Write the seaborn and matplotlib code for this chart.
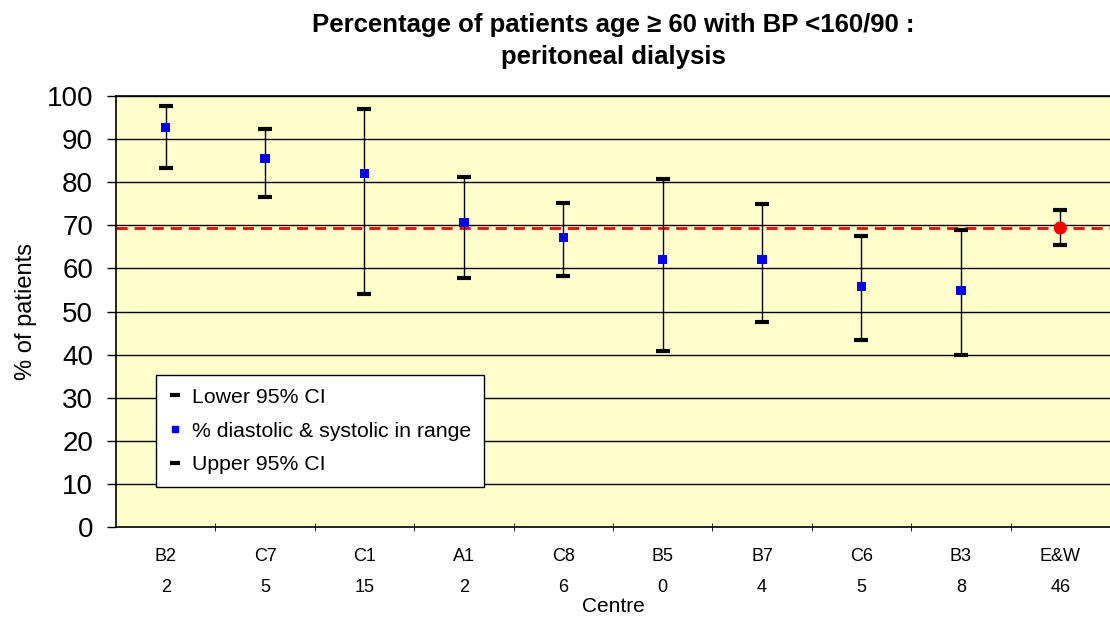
import matplotlib
matplotlib.use("Agg")
import matplotlib.pyplot as plt
import seaborn as sns
import pandas as pd
from matplotlib.lines import Line2D

# dados
centres = ["B2", "C7", "C1", "A1", "C8", "B5", "B7", "C6", "B3", "E&W"]
counts = ["2", "5", "15", "2", "6", "0", "4", "5", "8", "46"]
pct_in_range = [92.7, 85.5, 82.1, 70.6, 67.2, 62.1, 62.1, 55.8, 54.9, 69.4]
lower_ci = [83.4, 76.6, 54.1, 57.8, 58.3, 40.8, 47.7, 43.5, 40.0, 65.5]
upper_ci = [97.7, 92.3, 97.0, 81.2, 75.2, 80.7, 74.9, 67.6, 68.9, 73.6]
national_avg = 69.4

df = pd.DataFrame({"centre": centres, "pct": pct_in_range,
                   "lower": lower_ci, "upper": upper_ci})
df["pos"] = range(len(df))
is_ew = df["centre"] == "E&W"

sns.set_style("white")
plt.rcParams["font.family"] = ["Liberation Sans", "DejaVu Sans"]
plt.rcParams["text.color"] = "black"
plt.rcParams["axes.labelcolor"] = "black"
plt.rcParams["xtick.color"] = "black"
plt.rcParams["ytick.color"] = "black"

fig = plt.figure(figsize=(11.1, 6.26), dpi=100)
ax = fig.add_axes([0.1045, 0.158, 0.8955, 0.6885])
ax.set_facecolor("#FFFFCC")

# grade horizontal
for v in range(10, 101, 10):
    ax.axhline(v, color="black", lw=1, zorder=1)

# linha média E&W
ax.axhline(national_avg, color="red", ls=(0, (4, 2.5)), lw=2, zorder=2)

# barras de erro
ax.vlines(df["pos"], df["lower"], df["upper"], color="black", lw=1, zorder=3)
cap = dict(marker="_", s=90, color="black", linewidth=3, zorder=4, legend=False)
sns.scatterplot(data=df, x="pos", y="lower", ax=ax, **cap)
sns.scatterplot(data=df, x="pos", y="upper", ax=ax, **cap)

# pontos
sns.scatterplot(data=df[~is_ew], x="pos", y="pct", ax=ax, marker="s", s=45,
                color="blue", edgecolor="none", zorder=5, legend=False)
sns.scatterplot(data=df[is_ew], x="pos", y="pct", ax=ax, marker="o", s=90,
                color="red", edgecolor="none", zorder=5, legend=False)

ax.set_xlim(-0.5, len(df) - 0.5)
ax.set_ylim(0, 100)
ax.set_yticks(range(0, 101, 10))
ax.tick_params(axis="y", labelsize=20, length=6.5, width=1, direction="out", left=True, pad=10)
ax.set_xticks(df["pos"])
ax.set_xticklabels([f"{c}\n{n}" for c, n in zip(centres, counts)], fontsize=13, linespacing=2.05)
ax.set_xticks([p + 0.5 for p in df["pos"][:-1]], minor=True)
ax.tick_params(axis="x", which="major", length=0, pad=15)
ax.tick_params(axis="x", which="minor", length=6, direction="inout", bottom=True)

for side in ["left", "bottom", "top"]:
    ax.spines[side].set_color("black")
    ax.spines[side].set_linewidth(1.2)
ax.spines["right"].set_visible(False)

ax.set_xlabel("Centre", fontsize=15, labelpad=1)
ax.set_ylabel("% of patients", fontsize=17, labelpad=7)
ax.set_title("Percentage of patients age \u2265 60 with BP <160/90 :\nperitoneal dialysis",
             fontsize=18.5, fontweight="bold", pad=23, linespacing=1.45)

handles = [
    Line2D([], [], ls="none", marker="_", color="black", markersize=7, mew=3),
    Line2D([], [], ls="none", marker="s", color="blue", markersize=5),
    Line2D([], [], ls="none", marker="_", color="black", markersize=7, mew=3),
]
labels = ["Lower 95% CI", "% diastolic & systolic in range", "Upper 95% CI"]
leg = ax.legend(handles, labels, loc="upper left", bbox_to_anchor=(0.04, 0.353),
                borderaxespad=0, fontsize=15.3, frameon=True, fancybox=False,
                framealpha=1, edgecolor="black", handlelength=0.6,
                handletextpad=0.5, labelspacing=0.7, borderpad=0.6)
leg.get_frame().set_linewidth(1)
leg.set_zorder(10)

plt.savefig("out.png", dpi=100)
plt.close()
